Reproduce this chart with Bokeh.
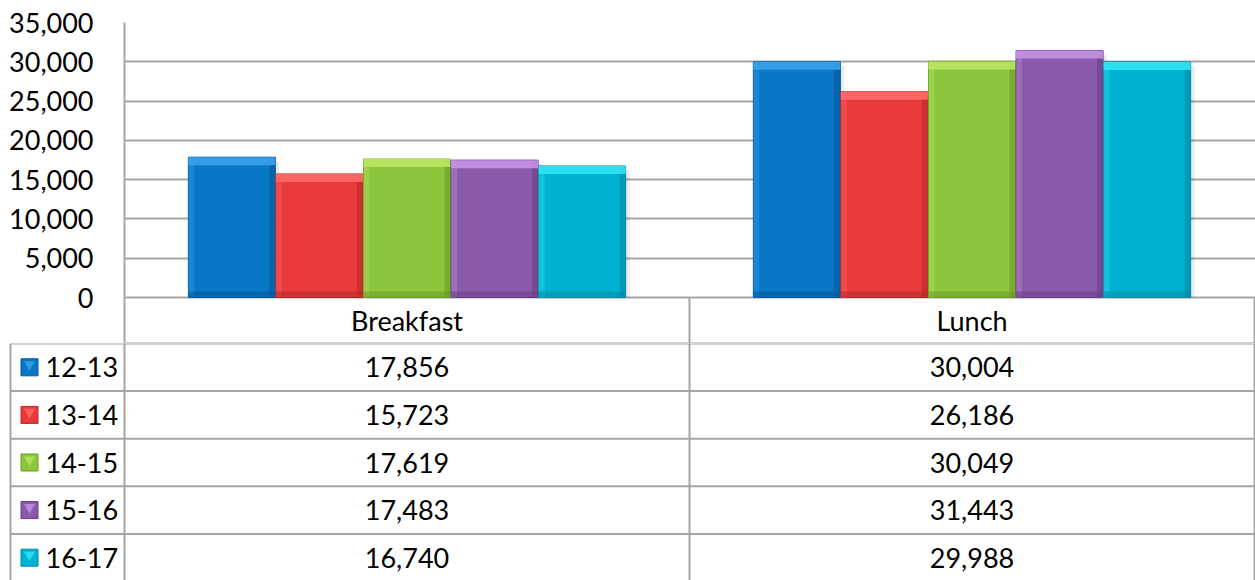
import numpy as np
from bokeh.plotting import figure
from bokeh.models import ColumnDataSource, Range1d, FixedTicker, NumeralTickFormatter
from bokeh.transform import dodge
from bokeh.core.properties import value
from bokeh.embed import file_html
from bokeh.resources import INLINE

# ---------------- data ----------------
meals = ["Breakfast", "Lunch"]
series = ["12-13", "13-14", "14-15", "15-16", "16-17"]
v_12_13 = [17856, 30004]
v_13_14 = [15723, 26186]
v_14_15 = [17619, 30049]
v_15_16 = [17483, 31443]
v_16_17 = [16740, 29988]
y_ticks = [0, 5000, 10000, 15000, 20000, 25000, 30000, 35000]

values = [v_12_13, v_13_14, v_14_15, v_15_16, v_16_17]

# ---------------- styles ----------------
main_c = ["#0a76c6", "#e83a3a", "#8cc63c", "#8a5aaa", "#00b2d2"]
light_c = ["#3aa2ea", "#ff6a6a", "#b8e660", "#c392e6", "#30e4f4"]
dark_c = ["#05589a", "#b82a2a", "#6a9a28", "#673f85", "#008aa6"]
grid_c = "#a6a6a6"
FONT = "Lato"
FS = "27px"

W = 1255
LB = 124              # chart frame left
TOPB = 22             # chart frame top
ZERO = 297            # pixel row of value 0
HDR_B = 343           # bottom of header row
H_TOP = HDR_B
H_TAB = 580 - HDR_B
CAT_PX = 565.0        # pixels per category
YMAX = 35000

px_y = YMAX / (ZERO - TOPB)
px_x = 1.0 / CAT_PX
x_end = (W - LB) / CAT_PX

bar_w = 0.154
step = 0.155

# ---------------- chart (with header row) ----------------
y_start = -(HDR_B - ZERO) * px_y
p = figure(width=W, height=H_TOP, x_range=Range1d(0, x_end),
           y_range=Range1d(y_start, YMAX), output_backend="svg", toolbar_location=None,
           min_border_left=LB, min_border_right=0, min_border_top=TOPB, min_border_bottom=0)
p.outline_line_color = None
p.xaxis.visible = False
p.xgrid.visible = False
p.ygrid.grid_line_color = grid_c
p.ygrid.grid_line_width = 2
p.yaxis.ticker = FixedTicker(ticks=y_ticks)
p.yaxis.formatter = NumeralTickFormatter(format="0,0")
p.yaxis.major_tick_out = 0
p.yaxis.major_tick_in = 0
p.yaxis.minor_tick_out = 0
p.yaxis.minor_tick_in = 0
p.yaxis.axis_line_color = grid_c
p.yaxis.axis_line_width = 2
p.yaxis.major_label_standoff = 31
p.yaxis.major_label_text_font = FONT
p.yaxis.major_label_text_font_size = FS
p.yaxis.major_label_text_color = "#000000"

# header-row range: 0 at top of table, 1 at bottom of header row
hdr_h = HDR_B - ZERO
p.extra_y_ranges = {"hdr": Range1d(1.0, -(ZERO - TOPB) / hdr_h)}

src = {"xc": np.arange(len(meals)) + 0.5}
for i, s in enumerate(series):
    v = np.array(values[i], dtype=float)
    src["v%d" % i] = v
    src["t%d" % i] = v - 8 * px_y
    src["b%d" % i] = np.full_like(v, 6 * px_y)
    src["s%d" % i] = v - 4 * px_y
source = ColumnDataSource(src)

for i, s in enumerate(series):
    off = (i - 2) * step
    # shadow
    p.vbar(x=dodge("xc", off + 4 * px_x), top="s%d" % i, bottom=0, width=bar_w, source=source,
           fill_color="#000000", fill_alpha=0.08, line_color=None)
    # base
    p.vbar(x=dodge("xc", off), top="v%d" % i, bottom=0, width=bar_w, source=source,
           fill_color=main_c[i], line_color=dark_c[i], line_width=1)
    # right dark edge
    p.vbar(x=dodge("xc", off + bar_w / 2 - 3 * px_x), top="v%d" % i, bottom=0, width=6 * px_x,
           source=source, fill_color=dark_c[i], fill_alpha=0.6, line_color=None)
    # left light edge
    p.vbar(x=dodge("xc", off - bar_w / 2 + 3 * px_x), top="v%d" % i, bottom=0, width=6 * px_x,
           source=source, fill_color=light_c[i], fill_alpha=0.35, line_color=None)
    # bottom dark strip
    p.vbar(x=dodge("xc", off), top="b%d" % i, bottom=0, width=bar_w, source=source,
           fill_color=dark_c[i], fill_alpha=0.55, line_color=None)
    # top bevel
    p.vbar(x=dodge("xc", off), top="v%d" % i, bottom="t%d" % i, width=bar_w, source=source,
           fill_color=light_c[i], fill_alpha=0.9, line_color=None)

# header row lines + text
ncat = len(meals)
vx = [float(k) for k in range(1, ncat + 1)]
p.segment(x0=vx, y0=[0] * len(vx), x1=vx, y1=[1] * len(vx), line_color=grid_c, line_width=2,
          y_range_name="hdr")
p.segment(x0=[0.0], y0=[1.0], x1=[float(ncat)], y1=[1.0], line_color=grid_c, line_width=2,
          y_range_name="hdr")
p.text(x=list(src["xc"]), y=[0.5] * ncat, text=meals, text_align="center",
       text_baseline="middle", text_font=value(FONT), text_font_size=FS,
       text_color="#000000", y_range_name="hdr")

# ---------------- data table rows ----------------
TLB = 8
row_h = 47.6
left_u = -(LB - TLB) * px_x
key_left = -(LB - 10) * px_x
t = figure(width=W, height=H_TAB, x_range=Range1d(left_u, x_end),
           y_range=Range1d(H_TAB / row_h, 0), output_backend="svg", toolbar_location=None,
           min_border_left=TLB, min_border_right=0, min_border_top=0, min_border_bottom=0)
t.outline_line_color = None
t.axis.visible = False
t.grid.visible = False

nrows = len(series)
hy = list(range(0, nrows))
t.segment(x0=[key_left] * len(hy), y0=hy, x1=[float(ncat)] * len(hy), y1=hy,
          line_color=grid_c, line_width=2)
vx2 = [key_left, 0.0] + vx
t.segment(x0=vx2, y0=[0] * len(vx2), x1=vx2, y1=[nrows + 1] * len(vx2),
          line_color=grid_c, line_width=2)

xs, ys, txt = [], [], []
for i, s in enumerate(series):
    for j, m in enumerate(meals):
        xs.append(src["xc"][j])
        ys.append(i + 0.5)
        txt.append("{:,}".format(values[i][j]))
t.text(x=xs, y=ys, text=txt, text_align="center", text_baseline="middle",
       text_font=value(FONT), text_font_size=FS, text_color="#000000")

ly = [i + 0.5 for i in range(nrows)]
kx = key_left + 19 * px_x
t.scatter(x=[kx] * nrows, y=ly, marker="square", size=17, fill_color=main_c,
          line_color=dark_c, line_width=1)
t.scatter(x=[kx] * nrows, y=[v - 0.06 for v in ly], marker="inverted_triangle", size=11,
          fill_color=light_c, fill_alpha=0.8, line_color=None)
t.text(x=[key_left + 35 * px_x] * nrows, y=ly, text=series, text_align="left",
       text_baseline="middle", text_font=value(FONT), text_font_size=FS, text_color="#000000")

open("out.html", "w").write(file_html([p, t], INLINE))
